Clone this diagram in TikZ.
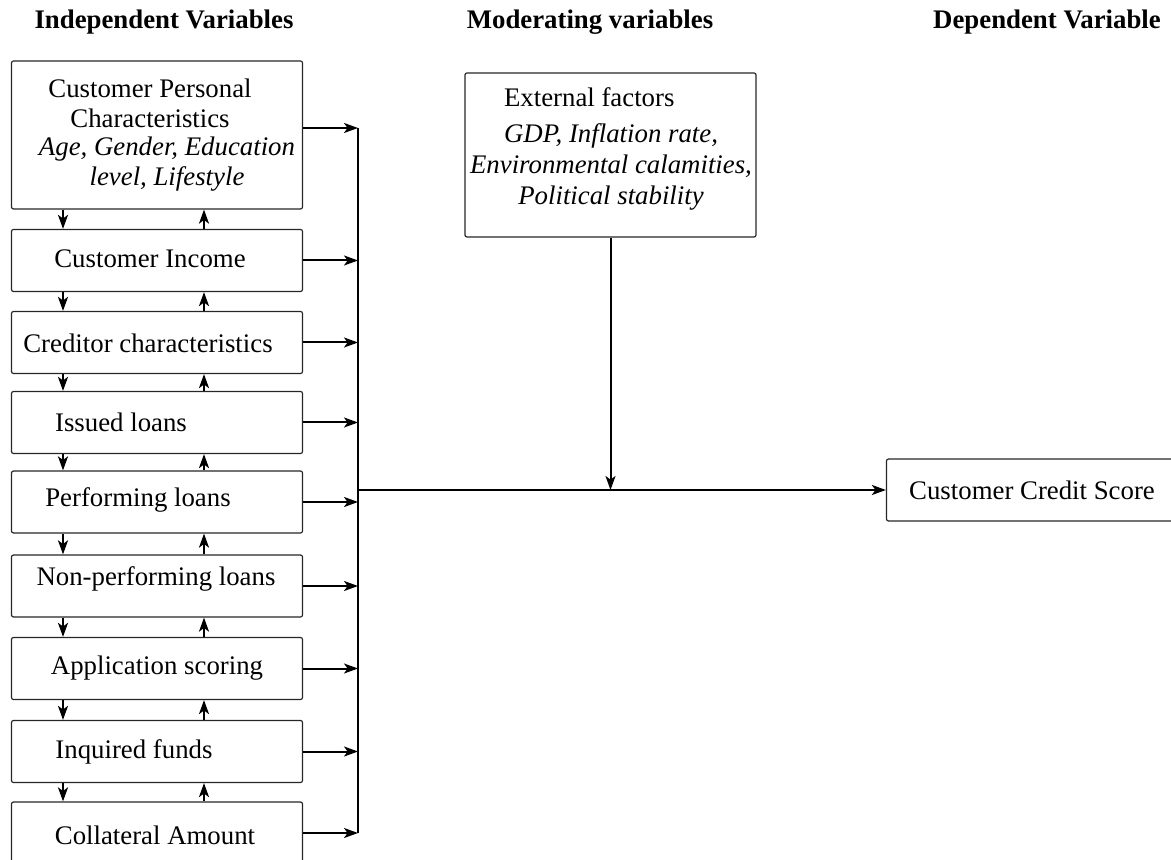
\documentclass[tikz,border=0pt]{standalone}
\usepackage{fontspec}
\setmainfont{Liberation Serif}
\usetikzlibrary{arrows.meta}
\tikzset{
ivbox/.style={
	  draw=black!85, line width=0.6pt, rounded corners=1pt,
	    minimum width=145.5pt, minimum height=31pt, inner sep=0pt},
link/.style={-{Stealth[length=7pt,width=5pt,inset=1.8pt]}, line width=1pt},
wire/.style={line width=1pt}
}
\newcommand{\bsz}{\fontsize{13.4}{15}\selectfont}

\begin{document}
\begin{tikzpicture}[x=0.5pt, y=-0.5pt, font=\bsz]
	\useasboundingbox (0,0) rectangle (1171,860);
	% headings
	\node[font=\bsz\bfseries] (indep) at (164,22) {Independent Variables};
	\node[font=\bsz\bfseries] (moder) at (590,22) {Moderating variables};
	\node[font=\bsz\bfseries] (depen) at (1047,22) {Dependent Variable};
	% independent variables
	\node[ivbox, minimum height=74pt] (cpc) at (157,135) {};
	\node[align=center] (cpcT) at (150,103) {Customer Personal\\Characteristics};
	\node[align=center, font=\bsz\itshape] (cpcV) at (167,164) {Age, Gender, Education\\level, Lifestyle};
	\node[ivbox] (inc) at (157,260.5) {};
	\node (incT) at (150,259) {Customer Income};
	\node[ivbox] (cred) at (157,342.5) {};
	\node (credT) at (148,343) {Creditor characteristics};
	\node[ivbox] (iss) at (157,422.5) {};
	\node (issT) at (121,422) {Issued loans};
	\node[ivbox] (perf) at (157,502) {};
	\node (perfT) at (138,500) {Performing loans};
	\node[ivbox] (npl) at (157,586) {};
	\node (nplT) at (156,579) {Non-performing loans};
	\node[ivbox] (app) at (157,668.5) {};
	\node (appT) at (157,668) {Application scoring};
	\node[ivbox] (inq) at (157,751.5) {};
	\node (inqT) at (134,752) {Inquired funds};
	\node[ivbox] (col) at (157,833) {};
	\node (colT) at (155,835) {Collateral Amount};
	% moderating variables
	\node[ivbox, minimum height=82pt] (ext) at (610.5,155) {};
	\node[anchor=west] (extT) at (497,97) {External factors};
	\node[align=center, font=\fontsize{13.4}{15.5}\selectfont\itshape] (extV) at (611,167) {GDP, Inflation rate,\\Environmental calamities,\\Political stability};
	% dependent variable
	\node[ivbox] (cs) at (1032,490) {Customer Credit Score};

	\coordinate (bus) at (358,0);
	\coordinate (hub) at (358,490);
	% arrows between the boxes
	\foreach \a/\b in {cpc/inc, inc/cred, cred/iss, iss/perf, perf/npl, npl/app, app/inq, inq/col}{
		\draw[link] ([xshift=-47pt]\a.south) -- ([xshift=-47pt]\b.north);
		\draw[link] ([xshift=23.5pt]\b.north) -- ([xshift=23.5pt]\a.south);
	}
	% arrows into the bus
	\draw[link] ([yshift=3.5pt]cpc.east) -- ([yshift=3.5pt]cpc.east -| bus);
	\foreach \b in {inc, cred, iss, perf, npl, app, inq, col}
		\draw[link] (\b.east) -- (\b.east -| bus);
	\draw[wire] ([yshift=3.5pt]cpc.east -| bus) -- (col.east -| bus);
	\draw[link] (hub) -- (cs);
	\draw[link] (ext.south) -- (ext.south |- hub);
\end{tikzpicture}
\end{document}
